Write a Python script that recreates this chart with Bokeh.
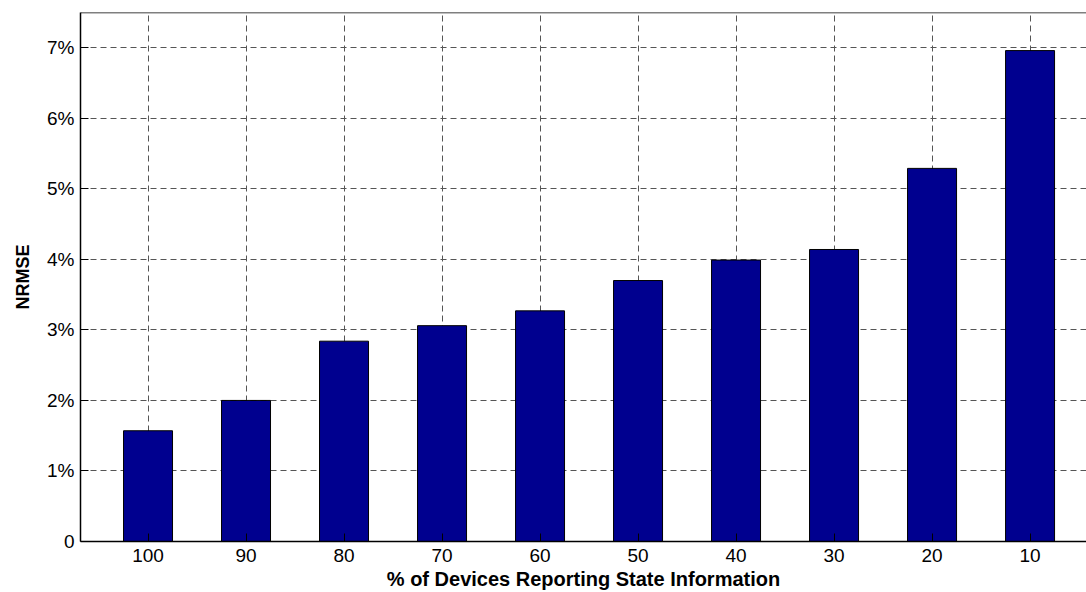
from bokeh.models import ColumnDataSource, Span
from bokeh.plotting import figure
from bokeh.embed import file_html
from bokeh.resources import INLINE

# % of devices reporting, and the NRMSE (in percent)
devices = ["100", "90", "80", "70", "60", "50", "40", "30", "20", "10"]
nrmse = [1.57, 2.00, 2.84, 3.06, 3.27, 3.70, 3.99, 4.14, 5.29, 6.96]
y_ticks = [0, 1, 2, 3, 4, 5, 6, 7]
y_labels = ["0", "1%", "2%", "3%", "4%", "5%", "6%", "7%"]

FONT = "Liberation Sans"

positions = list(range(1, len(devices) + 1))
source = ColumnDataSource(data=dict(x=positions, top=nrmse, label=devices))

p = figure(width=1086, height=592, x_range=(0.311, 10.576), y_range=(0, 7.5),
           output_backend="svg", toolbar_location=None,
           min_border_left=80, min_border_right=0, min_border_top=12, min_border_bottom=51)

p.vbar(x="x", top="top", width=0.5, source=source,
       fill_color="#00008F", line_color="black", line_width=1)

# box edge on top (the right edge lies outside the picture)
p.add_layout(Span(location=7.5, dimension="width", line_color="black", line_width=1.5))
p.outline_line_color = None

p.xaxis.ticker = positions
p.xaxis.major_label_overrides = {pos: lab for pos, lab in zip(positions, devices)}
p.yaxis.ticker = y_ticks
p.yaxis.major_label_overrides = {t: lab for t, lab in zip(y_ticks, y_labels)}

p.xaxis.axis_label = "% of Devices Reporting State Information"
p.yaxis.axis_label = "NRMSE"

for ax in (p.xaxis, p.yaxis):
    ax.axis_line_color = "black"
    ax.axis_line_width = 1.5
    ax.major_tick_in = 8
    ax.major_tick_out = 0
    ax.major_tick_line_color = "black"
    ax.minor_tick_line_color = None
    ax.major_label_text_font = FONT
    ax.major_label_text_font_size = "19px"
    ax.major_label_text_color = "black"
    ax.axis_label_text_font = FONT
    ax.axis_label_text_font_style = "bold"
    ax.axis_label_text_color = "black"

p.xaxis.axis_label_text_font_size = "20px"
p.yaxis.axis_label_text_font_size = "18px"

p.xaxis.major_label_standoff = 7
p.xaxis.axis_label_standoff = 3
p.yaxis.major_label_standoff = 6
p.yaxis.axis_label_standoff = 11

for g in (p.xgrid, p.ygrid):
    g.grid_line_color = "#555555"
    g.grid_line_dash = "6 4"
    g.grid_line_width = 1

p.background_fill_color = "white"
p.border_fill_color = "white"

open("out.html", "w").write(file_html(p, INLINE))
